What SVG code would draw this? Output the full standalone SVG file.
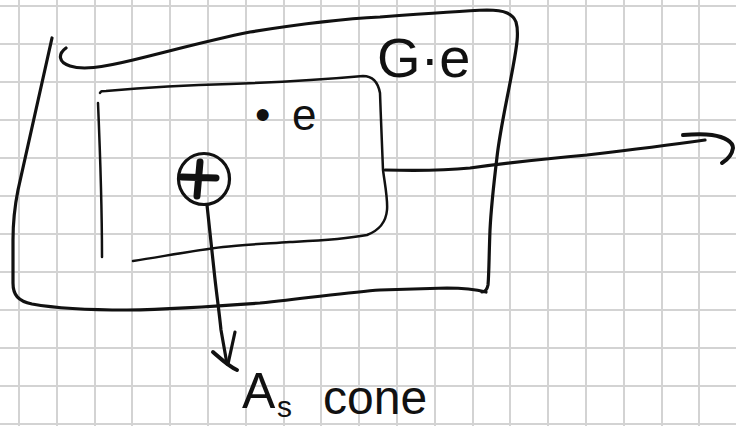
<svg xmlns="http://www.w3.org/2000/svg" width="736" height="426" viewBox="0 0 736 426">
<style>
.grid{stroke:#d3d3d3;stroke-width:2;fill:none}
.ink{stroke:#111;fill:none;stroke-linecap:round;stroke-linejoin:round}
.w3{stroke-width:3.2}
.w25{stroke-width:2.5}
.hand{font-family:"Liberation Sans","DejaVu Sans",sans-serif;fill:#111}
</style>
<rect width="736" height="426" fill="#fff"/>
<path class="grid" d="M19,0V426M57,0V426M95,0V426M132,0V426M170,0V426M208,0V426M246,0V426M284,0V426M321,0V426M359,0V426M397,0V426M435,0V426M473,0V426M510,0V426M548,0V426M586,0V426M624,0V426M662,0V426M699,0V426
M0,6H736M0,44H736M0,82H736M0,120H736M0,158H736M0,196H736M0,234H736M0,272H736M0,310H736M0,348H736M0,386H736M0,424H736"/>
<g id="outer-region">
<path class="ink w3" d="M52,38 L18,190 C14,210 13,225 13,240 L13,283 C13,295 18,301 32,304 C60,309 95,310 127,310 C180,309 220,306 260,303 C310,298 350,292 380,290 L447,288 C465,288 478,290 486,292"/>
<path class="ink w3" d="M66,48 C58,54 58,62 70,66 C82,70 100,68 133,60 C170,51 210,40 250,32 C300,24 340,19 380,17 C420,14 460,11 487,10 C505,10 513,14 516,22 C519,32 517,45 513,67 C507,100 500,130 497,157 C493,190 491,210 490,230 C489,255 489,275 488,285 C487,290 485,292 482,292"/>
<text class="hand" x="377" y="77" font-size="56">G·e</text>
</g>
<g id="inner-region">
<path class="ink w25" d="M100,93 C101,91 102,91 106,91 C140,88 190,85 230,84 C290,82 330,79 363,76 C372,76 378,82 380,93 C381,120 382,150 383,170 C385,185 388,200 387,210 C386,222 380,230 367,235 C340,240 310,241 290,242 C260,244 240,245 223,247 C190,251 160,257 133,261"/>
<path class="ink w25" d="M98,103 C100,150 102,200 102,257"/>
<text class="hand" y="130" font-size="44"><tspan x="255">•</tspan> <tspan x="292">e</tspan></text>
</g>
<g id="plus-circle">
<circle class="ink w3" cx="204" cy="179" r="25.5"/>
<path class="ink" stroke-width="7" d="M200,162 L197,196 M182,177 L216,178"/>
</g>
<g id="as-cone-label">
<text class="hand" font-size="50"><tspan x="242" y="408">A</tspan><tspan x="277" y="417" font-size="30">s</tspan> <tspan x="323" y="414" font-size="48">cone</tspan></text>
</g>
<g id="connectors">
<path class="ink w3" d="M385,170 C420,171 450,170 470,168 C500,164 540,159 587,155 C630,150 670,145 705,140"/>
<path class="ink" stroke-width="4" d="M683,135 C695,134 705,134 712,135 C725,137 733,142 733,148 C732,155 727,160 722,163"/>
<path class="ink w3" d="M207,205 L214,270 C216,290 219,310 221,330 L227,364"/>
<path class="ink w3" d="M235,332 L228,364"/>
<path class="ink" stroke-width="4" d="M213,352 C220,358 228,366 237,370"/>
</g>
</svg>
